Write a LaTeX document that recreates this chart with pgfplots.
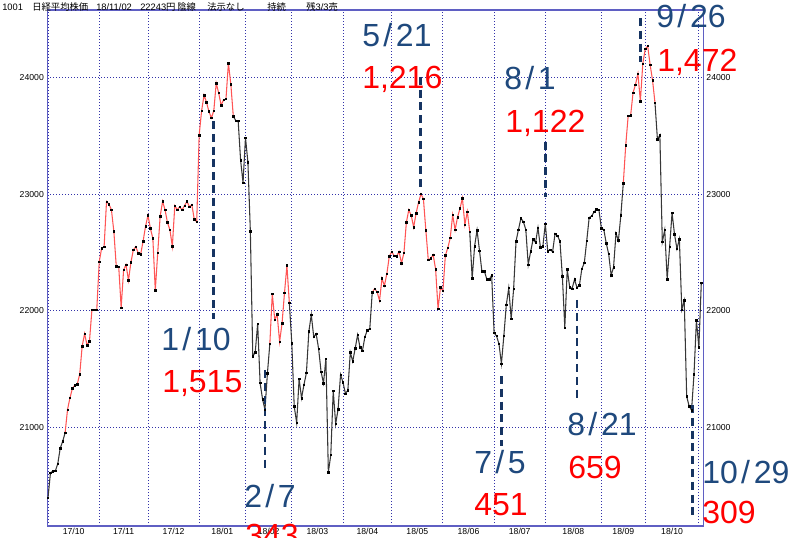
\documentclass[border=0pt]{standalone}
\usepackage{pgfplots}
\pgfplotsset{compat=1.18}
\usepackage{pgfplotstable}
\usepackage{fontspec}
\setmainfont{Liberation Sans}
\newfontfamily\jp{Noto Sans CJK JP}
\definecolor{datecol}{RGB}{31,73,125}
\definecolor{dashcol}{RGB}{22,52,98}
\definecolor{gridcol}{RGB}{50,50,170}
\definecolor{framecol}{RGB}{95,95,195}
\definecolor{upcol}{RGB}{255,85,85}
\definecolor{dncol}{RGB}{55,55,55}
\definecolor{numred}{RGB}{255,0,0}

\pgfplotstableread{
i v
0 20400.78
1 20614.07
2 20626.66
3 20628.56
4 20690.71
5 20823.51
6 20881.27
7 20954.72
8 21155.18
9 21255.56
10 21336.12
11 21363.05
12 21372.99
13 21457.64
14 21696.65
15 21805.17
16 21707.62
17 21739.78
18 22008.45
19 22011.67
20 22011.61
21 22420.08
22 22539.12
23 22548.35
24 22937.60
25 22913.82
26 22868.71
27 22681.42
28 22380.99
29 22380.01
30 22028.32
31 22351.12
32 22396.80
33 22261.76
34 22416.48
35 22523.15
36 22550.85
37 22495.99
38 22486.24
39 22597.20
40 22724.96
41 22819.03
42 22707.16
43 22622.38
44 22177.04
45 22498.03
46 22811.08
47 22938.73
48 22866.10
49 22758.07
50 22694.45
51 22553.22
52 22901.77
53 22868.00
54 22891.72
55 22866.17
56 22902.76
57 22939.18
58 22892.69
59 22911.21
60 22783.98
61 22764.94
62 23506.33
63 23714.53
64 23849.99
65 23788.20
66 23710.43
67 23653.82
68 23714.88
69 23951.81
70 23868.34
71 23763.37
72 23808.06
73 23816.33
74 24124.15
75 23940.78
76 23669.49
77 23631.88
78 23629.34
79 23291.97
80 23098.29
81 23486.11
82 23274.53
83 22682.08
84 21610.24
85 21645.37
86 21890.86
87 21382.62
88 21244.68
89 21154.17
90 21464.98
91 21720.25
92 22149.21
93 21925.10
94 21970.81
95 21736.44
96 21892.78
97 22153.63
98 22389.86
99 22068.24
100 21724.47
101 21181.64
102 21042.09
103 21417.76
104 21252.72
105 21368.07
106 21469.20
107 21824.03
108 21968.10
109 21777.29
110 21803.95
111 21676.51
112 21480.90
113 21380.97
114 21591.99
115 20617.86
116 20766.10
117 21317.32
118 21031.31
119 21159.08
120 21454.30
121 21388.58
122 21292.29
123 21319.55
124 21645.42
125 21567.52
126 21678.26
127 21794.32
128 21687.10
129 21660.28
130 21778.74
131 21835.53
132 21847.59
133 22158.20
134 22191.18
135 22162.24
136 22088.04
137 22278.12
138 22215.32
139 22319.61
140 22467.87
141 22508.03
142 22472.78
143 22467.16
144 22508.69
145 22408.88
146 22497.18
147 22758.48
148 22865.86
149 22818.02
150 22717.23
151 22838.37
152 22930.36
153 23002.37
154 22960.34
155 22689.74
156 22437.01
157 22450.79
158 22481.09
159 22358.43
160 22018.52
161 22201.82
162 22171.35
163 22475.94
164 22539.54
165 22625.73
166 22823.26
167 22694.50
168 22804.04
169 22878.35
170 22966.38
171 22738.61
172 22851.75
173 22680.33
174 22278.48
175 22555.43
176 22693.04
177 22516.83
178 22338.15
179 22342.00
180 22271.77
181 22270.39
182 22304.51
183 21811.93
184 21785.54
185 21717.04
186 21546.99
187 21788.14
188 22052.18
189 22196.89
190 21932.21
191 22187.96
192 22597.35
193 22697.88
194 22794.19
195 22764.68
196 22697.36
197 22396.99
198 22510.48
199 22614.25
200 22586.87
201 22712.75
202 22544.84
203 22553.72
204 22746.70
205 22512.53
206 22525.18
207 22507.32
208 22662.74
209 22644.31
210 22598.39
211 22298.08
212 21857.43
213 22356.08
214 22204.22
215 22192.04
216 22270.38
217 22199.00
218 22219.73
219 22362.55
220 22410.82
221 22601.77
222 22799.64
223 22813.47
224 22848.22
225 22869.50
226 22865.15
227 22707.38
228 22696.90
229 22580.83
230 22487.94
231 22307.06
232 22373.09
233 22664.69
234 22604.61
235 22821.32
236 23094.67
237 23420.54
238 23672.52
239 23674.93
240 23869.93
241 23940.26
242 24033.79
243 23796.74
244 24120.04
245 24245.76
246 24270.62
247 24110.96
248 23975.62
249 23783.72
250 23469.39
251 23506.04
252 22590.86
253 22694.66
254 22271.30
255 22549.24
256 22841.12
257 22658.16
258 22532.08
259 22614.82
260 22010.78
261 22091.18
262 21268.73
263 21184.60
264 21149.80
265 21457.29
266 21920.46
267 21687.65
268 22243.66
}\nikkei

\newcommand{\sls}{\kern0.1em/\kern0.12em}
\newcommand{\bigf}{\fontsize{24}{26}\selectfont}
\newcommand{\smallf}{\fontsize{6.5}{7.5}\selectfont}

\begin{document}
\begin{tikzpicture}[x=0.75pt,y=0.75pt]
\path[use as bounding box] (0,0) rectangle (800,537);
\begin{axis}[
  at={(35.475pt,8.25pt)}, anchor=south west,
  scale only axis, width=492.15pt, height=387pt,
  xmin=-0.3, xmax=268.9, ymin=20157, ymax=24579,
  axis line style={framecol, line width=0.9pt},
  xtick={0,21,41,62,81,100,121,141,162,183,204,227,245,267},
  xticklabels={},
  ytick={21000,22000,23000,24000},
  yticklabels={21000,22000,23000,24000},
  xmajorgrids, ymajorgrids,
  grid style={gridcol, dash pattern=on 0.75pt off 1.5pt, line width=0.7pt},
  major tick length=0pt,
  yticklabel style={font=\smallf, anchor=east, inner sep=0pt, xshift=-2.4pt},
  extra x ticks={10.5,31,51.5,71.5,90.5,110.5,131,151.5,172.5,193.5,215.5,236,256},
  extra x tick labels={17/10,17/11,17/12,18/01,18/02,18/03,18/04,18/05,18/06,18/07,18/08,18/09,18/10},
  extra x tick style={grid=none, major tick length=0pt,
     xticklabel style={font=\smallf, anchor=north, inner sep=0pt, yshift=-1.6pt}},
  clip=false,
]
\addplot[dncol, line width=0.8pt, restrict x to domain=0:7] table[x=i,y=v]{\nikkei};
\addplot[upcol, line width=0.8pt, restrict x to domain=7:76] table[x=i,y=v]{\nikkei};
\addplot[dncol, line width=0.8pt, restrict x to domain=76:91] table[x=i,y=v]{\nikkei};
\addplot[upcol, line width=0.8pt, restrict x to domain=91:99] table[x=i,y=v]{\nikkei};
\addplot[dncol, line width=0.8pt, restrict x to domain=99:133] table[x=i,y=v]{\nikkei};
\addplot[upcol, line width=0.8pt, restrict x to domain=133:173] table[x=i,y=v]{\nikkei};
\addplot[dncol, line width=0.8pt, restrict x to domain=173:236] table[x=i,y=v]{\nikkei};
\addplot[upcol, line width=0.8pt, restrict x to domain=236:249] table[x=i,y=v]{\nikkei};
\addplot[dncol, line width=0.8pt, restrict x to domain=249:268] table[x=i,y=v]{\nikkei};
\addplot[only marks, mark=square*, mark size=0.55pt, black] table[x=i,y=v]{\nikkei};
% annotation dashed lines
\begin{scope}[dashcol, line width=2.2pt, dash pattern=on 6pt off 3.6pt]
\draw (axis cs:67.7,23628) -- (axis cs:67.7,21931);
\draw (axis cs:89.0,21494) -- (axis cs:89.0,20620);
\draw (axis cs:152.9,24006) -- (axis cs:152.9,23020);
\draw (axis cs:204.0,23451) -- (axis cs:204.0,22977);
\draw (axis cs:186.2,21443) -- (axis cs:186.2,20843);
\draw (axis cs:217.0,22094) -- (axis cs:217.0,21254);
\draw (axis cs:243.2,24511) -- (axis cs:243.2,24134);
\draw (axis cs:264.2,21194) -- (axis cs:264.2,20209);
\end{scope}
% right y labels
\node[anchor=west, inner sep=0pt, xshift=2pt, font=\smallf] at (axis cs:268.9,21000) {21000};
\node[anchor=west, inner sep=0pt, xshift=2pt, font=\smallf] at (axis cs:268.9,22000) {22000};
\node[anchor=west, inner sep=0pt, xshift=2pt, font=\smallf] at (axis cs:268.9,23000) {23000};
\node[anchor=west, inner sep=0pt, xshift=2pt, font=\smallf] at (axis cs:268.9,24000) {24000};
\end{axis}
% header
\begin{scope}[every node/.style={anchor=base west, inner sep=0pt, font=\fontsize{7}{8}\selectfont}]
\node at (2,526.5) {1001};
\node at (32,526.5) {\jp 日経平均株価};
\node at (96,526.5) {18/11/02};
\node at (140,526.5) {22243\jp 円};
\node at (177,526.5) {\jp 陰線};
\node at (207,526.5) {\jp 法示なし};
\node at (267,526.5) {\jp 持続};
\node at (306,526.5) {\jp 残\rmfamily 3/3\jp 売};
\end{scope}
% big annotations
\begin{scope}[every node/.style={anchor=base west, inner sep=0pt}]
\node[datecol, font=\bigf] at (161,{537-350}) {1\sls10};
\node[numred, font=\bigf] at (162,{537-392}) {1,515};
\node[datecol, font=\bigf] at (244,{537-507}) {2\sls7};
\node[numred, font=\bigf] at (245,{537-546}) {343};
\node[datecol, font=\bigf] at (362,{537-47}) {5\sls21};
\node[numred, font=\bigf] at (362,{537-88}) {1,216};
\node[datecol, font=\bigf] at (504,{537-90}) {8\sls1};
\node[numred, font=\bigf] at (505,{537-132}) {1,122};
\node[datecol, font=\bigf] at (474,{537-473}) {7\sls5};
\node[numred, font=\bigf] at (474,{537-515}) {451};
\node[datecol, font=\bigf] at (567,{537-435}) {8\sls21};
\node[numred, font=\bigf] at (568,{537-478}) {659};
\node[datecol, font=\bigf] at (656,{537-28}) {9\sls26};
\node[numred, font=\bigf] at (657,{537-72}) {1,472};
\node[datecol, font=\bigf] at (702,{537-483}) {10\sls29};
\node[numred, font=\bigf] at (702,{537-523}) {309};
\end{scope}
\end{tikzpicture}
\end{document}
